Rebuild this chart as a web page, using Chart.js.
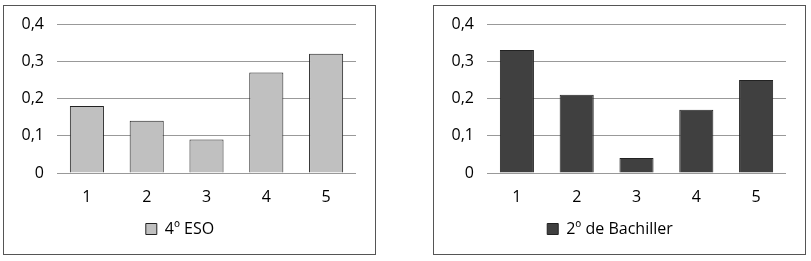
<!DOCTYPE html>
<html>
<head>
  <title>4º ESO / 2º de Bachiller</title>
  <script src="https://cdn.jsdelivr.net/npm/chart.js"></script>
  <style>
    body { margin: 0; background: #fff; width: 811px; height: 261px; position: relative; overflow: hidden; }
    .panel {
      position: absolute;
      top: 5px;
      width: 371px;
      height: 248px;
      border: 1px solid #555;
    }
    #p1 { left: 3px; }
    #p2 { left: 433px; }
  </style>
</head>
<body>

<div class="panel" id="p1"><canvas id="c1" width="371" height="248"></canvas></div>
<div class="panel" id="p2"><canvas id="c2" width="371" height="248"></canvas></div>

<script>
  const categories = ['1', '2', '3', '4', '5'];
  const esoValues = [0.18, 0.14, 0.09, 0.27, 0.32];
  const bachValues = [0.33, 0.21, 0.04, 0.17, 0.25];
  const yTicks = [0, 0.1, 0.2, 0.3, 0.4];

  function makeChart(id, label, values, fill) {
    const ctx = document.getElementById(id).getContext('2d');
    return new Chart(ctx, {
      type: 'bar',
      data: {
        labels: categories,
        datasets: [{
          label: label,
          data: values,
          backgroundColor: fill,
          borderColor: '#222',
          borderWidth: 1,
          borderSkipped: 'bottom',
          barPercentage: 0.57,
          categoryPercentage: 1
        }]
      },
      options: {
        responsive: false,
        animation: false,
        layout: { padding: { left: 0, right: 19, top: 18, bottom: 7 } },
        plugins: {
          tooltip: { enabled: false },
          legend: {
            position: 'bottom',
            labels: {
              boxWidth: 11, boxHeight: 11, padding: 10,
              color: '#000',
              font: { family: 'Open Sans', size: 16 }
            }
          }
        },
        scales: {
          x: {
            grid: { display: false },
            border: { display: false },
            ticks: { color: '#000', padding: 7, font: { family: 'Open Sans', size: 16 } },
            afterFit: s => { s.height = 38; }
          },
          y: {
            min: 0, max: 0.4,
            afterBuildTicks: s => { s.ticks = yTicks.map(v => ({ value: v })); },
            afterFit: s => { s.width = 53; s.paddingTop = 0; s.paddingBottom = 0; },
            grid: { color: '#999', lineWidth: 1, drawTicks: false },
            border: { display: false },
            ticks: {
              color: '#000', padding: 13,
              font: { family: 'Open Sans', size: 16 },
              callback: v => v === 0 ? '0' : v.toFixed(1).replace('.', ',')
            }
          }
        }
      }
    });
  }

  makeChart('c1', '4º ESO', esoValues, '#c0c0c0');
  makeChart('c2', '2º de Bachiller', bachValues, '#404040');
</script>
</body>
</html>
